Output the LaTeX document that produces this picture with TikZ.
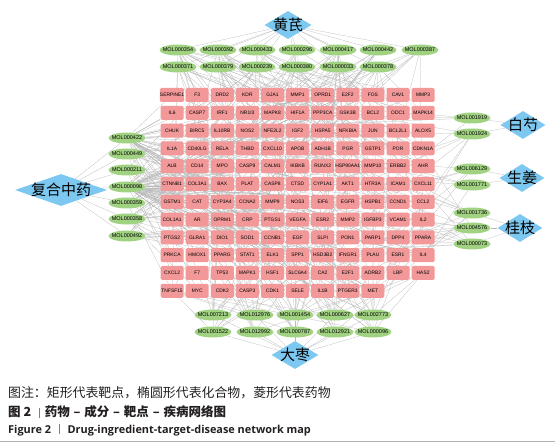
\documentclass[tikz,border=0pt]{standalone}
\usepackage{fontspec}
\setmainfont{Liberation Sans}
\newfontfamily\cjk{Noto Sans CJK SC}
\newfontfamily\capfont{Open Sans}
\usepackage{tikz}
\usetikzlibrary{shapes.geometric, positioning, backgrounds}

\definecolor{targetpink}{RGB}{242,152,152}
\definecolor{molgreen}{RGB}{160,210,130}
\definecolor{herbblue}{RGB}{125,200,240}
\definecolor{captiongray}{RGB}{35,31,32}

\begin{document}
\begin{tikzpicture}[
    x=1pt, y=-1pt,
    target/.style={
        rectangle,
        rounded corners=1.5pt,
        fill=targetpink,
        minimum width=23pt,
        minimum height=14pt,
        inner sep=0pt,
        font=\fontsize{4.9}{5}\selectfont
    },
    compound/.style={
        ellipse,
        fill=molgreen,
        minimum width=37pt,
        minimum height=11pt,
        inner xsep=-4pt,
        inner ysep=0pt,
        font=\fontsize{5.5}{6}\selectfont
    },
    herb/.style={
        diamond,
        fill=herbblue,
        inner sep=0pt,
        minimum width=47pt,
        minimum height=28pt,
        font=\cjk\fontsize{15}{15}\selectfont
    },
    link/.style={gray!55, line width=0.25pt}
]
    \useasboundingbox (0,0) rectangle (555,443);

    % Target grid (rows of 11 boxes)
    \foreach \r/\genes in {
        1/{SERPINE1,F3,DRD2,KDR,GJA1,MMP1,OPRD1,E2F2,FOS,CAV1,MMP3},
        2/{IL6,CASP7,IRF1,NR1I3,MAPK8,HIF1A,PPP3CA,GSK3B,BCL2,ODC1,MAPK14},
        3/{CHUK,BIRC5,IL10RB,NOS2,NFE2L2,IGF2,HSPA5,NFKBIA,JUN,BCL2L1,ALOX5},
        4/{IL1A,CD40LG,RELA,THBD,CXCL10,APOB,ADH1B,PGR,GSTP1,POR,CDKN1A},
        5/{ALB,CD14,MPO,CASP9,CALM1,IKBKB,RUNX2,HSP90AA1,MMP10,ERBB2,AHR},
        6/{CTNNB1,COL3A1,BAX,PLAT,CASP8,CTSD,CYP1A1,AKT1,HTR3A,ICAM1,CXCL11},
        7/{GSTM1,CAT,CYP3A4,CCNA2,MMP9,NOS3,EIF6,EGFR,HSPB1,CCND1,CCL2},
        8/{COL1A1,AR,OPRM1,CRP,PTGS1,VEGFA,ESR2,MMP2,IGFBP3,VCAM1,IL2},
        9/{PTGS2,GLRA1,DIO1,SOD1,CCNB1,EGF,SLPI,PON1,PARP1,DPP4,PPARA},
        10/{PRKCA,HMOX1,PPARG,STAT1,ELK1,SPP1,HSD3B2,IFNGR1,PLAU,ESR1,IL4},
        11/{CXCL2,F7,TP53,MAPK1,HSF1,SLC6A4,CA2,E2F1,ADRB2,LBP,HAS2},
        12/{TNFSF15,MYC,CDK2,CASP3,CDK1,SELE,IL1B,PTGER3,MET}}
        \foreach \gene [count=\c] in \genes
            \node[target] (t-\r-\c) at ({147+25.1*\c}, {95+17.8*(\r-1)}) {\gene};

    % Compounds
    \foreach \mol/\x/\y in {
        MOL000354/178/50, MOL000392/218/50, MOL000433/257/50, MOL000296/297/50,
        MOL000417/338/50, MOL000442/378/50, MOL000387/420/50,
        MOL000371/178/67, MOL000379/218/67, MOL000239/257/67, MOL000380/297/67,
        MOL000033/338/67, MOL000378/378/67,
        MOL000422/127/138, MOL000449/127/154, MOL000211/127/170, MOL000098/127/187,
        MOL000359/127/203, MOL000358/127/219, MOL000492/127/236,
        MOL001919/472/118, MOL001924/472/134, MOL006129/472/169, MOL001771/472/185,
        MOL001736/472/213, MOL004576/472/228, MOL000073/472/244,
        MOL007213/213/315, MOL012976/255/315, MOL001454/295/315, MOL000627/335/315,
        MOL002773/373/315, MOL001522/213/332, MOL012992/255/332, MOL000787/295/332,
        MOL012921/335/332, MOL000096/373/332}
        \node[compound] (\mol) at (\x,\y) {\mol};

    % Herbs
    \node[herb] (huangqi) at (288,25) {\makebox[0pt]{黄芪}};
    \node[herb, minimum width=92pt, minimum height=32pt] (fuhe) at (61,190) {\makebox[0pt]{复合中药}};
    \node[herb, minimum width=45pt] (baishao) at (523,125) {\makebox[0pt]{白芍}};
    \node[herb, minimum width=45pt] (shengjiang) at (522,178) {\makebox[0pt]{生姜}};
    \node[herb, minimum width=45pt] (guizhi) at (520,228) {\makebox[0pt]{桂枝}};
    \node[herb] (dazao) at (295,355) {\makebox[0pt]{大枣}};

    % Links behind the nodes
    \begin{pgfonlayer}{background}
        \foreach \mol in {MOL000354,MOL000392,MOL000433,MOL000296,MOL000417,MOL000442,MOL000387,
                          MOL000371,MOL000379,MOL000239,MOL000380,MOL000033,MOL000378}
            \draw[link] (huangqi) -- (\mol);
        \foreach \mol in {MOL000422,MOL000449,MOL000211,MOL000098,MOL000359,MOL000358,MOL000492}
            \draw[link] (fuhe) -- (\mol);
        \foreach \mol in {MOL001919,MOL001924} \draw[link] (baishao) -- (\mol);
        \foreach \mol in {MOL006129,MOL001771} \draw[link] (shengjiang) -- (\mol);
        \foreach \mol in {MOL001736,MOL004576,MOL000073} \draw[link] (guizhi) -- (\mol);
        \foreach \mol in {MOL007213,MOL012976,MOL001454,MOL000627,MOL002773,
                          MOL001522,MOL012992,MOL000787,MOL012921,MOL000096}
            \draw[link] (dazao) -- (\mol);

        % compound -- target links
        \pgfmathsetseed{2024}
        \foreach \mol/\n in {
            MOL000354/14, MOL000392/10, MOL000433/9, MOL000296/7, MOL000417/12, MOL000442/9, MOL000387/7,
            MOL000371/9, MOL000379/9, MOL000239/7, MOL000380/9, MOL000033/7, MOL000378/9,
            MOL000422/40, MOL000449/12, MOL000211/9, MOL000098/70, MOL000359/9, MOL000358/15, MOL000492/10,
            MOL001919/4, MOL001924/7, MOL006129/5, MOL001771/4, MOL001736/7, MOL004576/9, MOL000073/7,
            MOL007213/7, MOL012976/6, MOL001454/13, MOL000627/9, MOL002773/10,
            MOL001522/7, MOL012992/6, MOL000787/7, MOL012921/6, MOL000096/9}
            \foreach \k in {1,...,\n} {
                \pgfmathtruncatemacro\r{random(1,12)}
                \pgfmathtruncatemacro\cc{random(1,11)}
                \pgfmathtruncatemacro\c{\r==12 ? min(\cc,9) : \cc}
                \draw[link] (\mol) -- (t-\r-\c);
            }
    \end{pgfonlayer}

    % Caption
    \node[anchor=west, inner sep=0pt, text=captiongray, font=\cjk\fontsize{12.9}{14}\selectfont] (note) at (8,393)
        {图注：矩形代表靶点，椭圆形代表化合物，菱形代表药物};
    \node[anchor=west, inner sep=0pt, text=captiongray, font=\cjk\bfseries\fontsize{12.5}{14}\selectfont] (titlecn) at (8,412)
        {图 2\hspace{8pt}\textcolor{gray}{\rule[-1pt]{0.6pt}{10pt}}\hspace{5pt}药物\hspace{1pt} – \hspace{1pt}成分\hspace{1pt} – \hspace{1pt}靶点\hspace{1pt} – \hspace{1pt}疾病网络图};
    \node[anchor=west, inner sep=0pt, text=captiongray, font=\capfont\bfseries\fontsize{10.9}{12}\selectfont] (titleen) at (8,430)
        {Figure 2\hspace{8pt}\textcolor{gray}{\rule[-1pt]{0.6pt}{10pt}}\hspace{8pt}Drug-ingredient-target-disease network map};
    \draw[gray!60, line width=0.4pt] (0,441) -- (555,441);
\end{tikzpicture}
\end{document}
